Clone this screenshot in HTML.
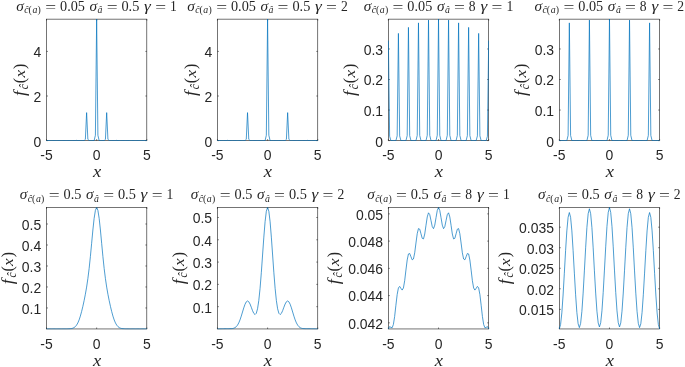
<!DOCTYPE html>
<html lang="en"><head><meta charset="utf-8"><title>f(x) subplots</title>
<style>html,body{margin:0;padding:0;background:#fff}svg{display:block}</style></head>
<body>
<svg width="685" height="367" viewBox="0 0 685 367">
<rect width="685" height="367" fill="#fff"/>
<defs>
<clipPath id="c0"><rect x="46.00" y="18.65" width="101.30" height="122.45"/></clipPath>
<clipPath id="c1"><rect x="216.94" y="18.65" width="101.30" height="122.45"/></clipPath>
<clipPath id="c2"><rect x="387.88" y="18.65" width="101.30" height="122.45"/></clipPath>
<clipPath id="c3"><rect x="558.82" y="18.65" width="101.30" height="122.45"/></clipPath>
<clipPath id="c4"><rect x="46.00" y="207.00" width="101.30" height="122.45"/></clipPath>
<clipPath id="c5"><rect x="216.94" y="207.00" width="101.30" height="122.45"/></clipPath>
<clipPath id="c6"><rect x="387.88" y="207.00" width="101.30" height="122.45"/></clipPath>
<clipPath id="c7"><rect x="558.82" y="207.00" width="101.30" height="122.45"/></clipPath>
</defs>
<g id="ax0">
<rect x="46.50" y="19.15" width="100.30" height="121.45" fill="none" stroke="#262626" stroke-width="0.64"/>
<path d="M46.50 140.60v-1.4M46.50 19.15v1.4M96.65 140.60v-1.4M96.65 19.15v1.4M146.80 140.60v-1.4M146.80 19.15v1.4M46.50 140.60h1.4M146.80 140.60h-1.4M46.50 96.01h1.4M146.80 96.01h-1.4M46.50 51.41h1.4M146.80 51.41h-1.4" stroke="#262626" stroke-width="0.64" fill="none"/>
<polyline points="46.50,140.60 47.75,140.60 49.01,140.60 50.26,140.60 51.52,140.60 52.77,140.60 54.02,140.60 55.28,140.60 56.53,140.60 57.78,140.60 59.04,140.60 60.29,140.60 61.55,140.60 62.80,140.60 64.05,140.60 65.31,140.60 66.56,140.60 67.81,140.60 69.07,140.60 70.32,140.60 71.58,140.60 72.83,140.60 74.08,140.60 75.34,140.59 76.59,140.36 77.84,140.59 79.10,140.60 80.35,140.60 81.60,140.60 82.86,140.60 84.11,140.60 85.37,139.37 86.62,112.62 87.87,139.37 89.13,140.60 90.38,140.60 91.63,140.60 92.89,140.60 94.14,140.60 95.40,135.26 96.65,19.15 97.90,135.26 99.16,140.60 100.41,140.60 101.67,140.60 102.92,140.60 104.17,140.60 105.43,139.37 106.68,112.62 107.93,139.37 109.19,140.60 110.44,140.60 111.70,140.60 112.95,140.60 114.20,140.60 115.46,140.59 116.71,140.36 117.96,140.59 119.22,140.60 120.47,140.60 121.72,140.60 122.98,140.60 124.23,140.60 125.49,140.60 126.74,140.60 127.99,140.60 129.25,140.60 130.50,140.60 131.75,140.60 133.01,140.60 134.26,140.60 135.52,140.60 136.77,140.60 138.02,140.60 139.28,140.60 140.53,140.60 141.78,140.60 143.04,140.60 144.29,140.60 145.55,140.60 146.80,140.60" fill="none" stroke="#0072BD" stroke-width="0.7" stroke-linejoin="round" clip-path="url(#c0)"/>
<g font-family="Liberation Sans, Arial, Helvetica, sans-serif" font-size="15.5" fill="#262626">
<text x="46.50" y="160.20" text-anchor="middle" textLength="12.40" lengthAdjust="spacingAndGlyphs">-5</text>
<text x="96.65" y="160.20" text-anchor="middle" textLength="7.76" lengthAdjust="spacingAndGlyphs">0</text>
<text x="146.80" y="160.20" text-anchor="middle" textLength="7.76" lengthAdjust="spacingAndGlyphs">5</text>
<text x="41.20" y="146.50" text-anchor="end" textLength="7.76" lengthAdjust="spacingAndGlyphs">0</text>
<text x="41.20" y="101.91" text-anchor="end" textLength="7.76" lengthAdjust="spacingAndGlyphs">2</text>
<text x="41.20" y="57.31" text-anchor="end" textLength="7.76" lengthAdjust="spacingAndGlyphs">4</text>
</g>
<text x="97.05" y="177.30" text-anchor="middle" font-family="Liberation Serif, Times New Roman, serif" font-style="italic" font-size="16" fill="#262626" textLength="8.2" lengthAdjust="spacingAndGlyphs">x</text>
<g transform="translate(24.60 80.38) rotate(-90)" font-family="Liberation Serif, Times New Roman, serif" font-size="16.0" fill="#262626"><text x="-15.6" y="0" font-style="italic" font-size="16" textLength="5.0" lengthAdjust="spacingAndGlyphs">f</text><text x="-8.9" y="3" font-style="italic" font-size="11.5">ĉ</text><text x="-2.9" y="0">(</text><text x="2.8" y="0" font-style="italic" font-size="15.5" textLength="7.6" lengthAdjust="spacingAndGlyphs">x</text><text x="11.5" y="0">)</text></g>
<g font-family="Liberation Serif, Times New Roman, serif" font-size="13.6" fill="#262626">
<text x="16.34" y="10.65" font-style="italic" textLength="7.6" lengthAdjust="spacingAndGlyphs">σ</text>
<text x="24.34" y="13.25" font-style="italic" font-size="9.8">ĉ</text>
<text x="28.58" y="13.25" font-size="9.8">(</text>
<text x="32.39" y="13.25" font-style="italic" font-size="9.8">a</text>
<text x="37.58" y="13.25" font-size="9.8">)</text>
<text x="45.28" y="11.65" textLength="10.89" lengthAdjust="spacingAndGlyphs">=</text>
<text x="60.07" y="10.65" textLength="24.89" lengthAdjust="spacingAndGlyphs">0.05</text>
<text x="89.62" y="10.65" font-style="italic" textLength="7.6" lengthAdjust="spacingAndGlyphs">σ</text>
<text x="97.61" y="13.25" font-style="italic" font-size="9.8">â</text>
<text x="106.69" y="11.65" textLength="10.89" lengthAdjust="spacingAndGlyphs">=</text>
<text x="121.47" y="10.65" textLength="17.89" lengthAdjust="spacingAndGlyphs">0.5</text>
<text x="144.03" y="10.65" font-style="italic" textLength="6.8" lengthAdjust="spacingAndGlyphs">γ</text>
<text x="155.17" y="11.65" textLength="10.89" lengthAdjust="spacingAndGlyphs">=</text>
<text x="169.96" y="10.65">1</text>
</g>
</g>
<g id="ax1">
<rect x="217.44" y="19.15" width="100.30" height="121.45" fill="none" stroke="#262626" stroke-width="0.64"/>
<path d="M217.44 140.60v-1.4M217.44 19.15v1.4M267.59 140.60v-1.4M267.59 19.15v1.4M317.74 140.60v-1.4M317.74 19.15v1.4M217.44 140.60h1.4M317.74 140.60h-1.4M217.44 96.01h1.4M317.74 96.01h-1.4M217.44 51.41h1.4M317.74 51.41h-1.4" stroke="#262626" stroke-width="0.64" fill="none"/>
<polyline points="217.44,140.60 218.69,140.60 219.95,140.60 221.20,140.60 222.45,140.60 223.71,140.60 224.96,140.60 226.22,140.59 227.47,140.36 228.72,140.59 229.98,140.60 231.23,140.60 232.48,140.60 233.74,140.60 234.99,140.60 236.25,140.60 237.50,140.60 238.75,140.60 240.01,140.60 241.26,140.60 242.51,140.60 243.77,140.60 245.02,140.60 246.28,139.37 247.53,112.62 248.78,139.37 250.04,140.60 251.29,140.60 252.54,140.60 253.80,140.60 255.05,140.60 256.31,140.60 257.56,140.60 258.81,140.60 260.07,140.60 261.32,140.60 262.57,140.60 263.83,140.60 265.08,140.60 266.34,135.26 267.59,19.15 268.84,135.26 270.10,140.60 271.35,140.60 272.61,140.60 273.86,140.60 275.11,140.60 276.37,140.60 277.62,140.60 278.87,140.60 280.13,140.60 281.38,140.60 282.63,140.60 283.89,140.60 285.14,140.60 286.40,139.37 287.65,112.62 288.90,139.37 290.16,140.60 291.41,140.60 292.66,140.60 293.92,140.60 295.17,140.60 296.43,140.60 297.68,140.60 298.93,140.60 300.19,140.60 301.44,140.60 302.69,140.60 303.95,140.60 305.20,140.60 306.46,140.59 307.71,140.36 308.96,140.59 310.22,140.60 311.47,140.60 312.73,140.60 313.98,140.60 315.23,140.60 316.49,140.60 317.74,140.60" fill="none" stroke="#0072BD" stroke-width="0.7" stroke-linejoin="round" clip-path="url(#c1)"/>
<g font-family="Liberation Sans, Arial, Helvetica, sans-serif" font-size="15.5" fill="#262626">
<text x="217.44" y="160.20" text-anchor="middle" textLength="12.40" lengthAdjust="spacingAndGlyphs">-5</text>
<text x="267.59" y="160.20" text-anchor="middle" textLength="7.76" lengthAdjust="spacingAndGlyphs">0</text>
<text x="317.74" y="160.20" text-anchor="middle" textLength="7.76" lengthAdjust="spacingAndGlyphs">5</text>
<text x="212.14" y="146.50" text-anchor="end" textLength="7.76" lengthAdjust="spacingAndGlyphs">0</text>
<text x="212.14" y="101.91" text-anchor="end" textLength="7.76" lengthAdjust="spacingAndGlyphs">2</text>
<text x="212.14" y="57.31" text-anchor="end" textLength="7.76" lengthAdjust="spacingAndGlyphs">4</text>
</g>
<text x="267.99" y="177.30" text-anchor="middle" font-family="Liberation Serif, Times New Roman, serif" font-style="italic" font-size="16" fill="#262626" textLength="8.2" lengthAdjust="spacingAndGlyphs">x</text>
<g transform="translate(195.54 80.38) rotate(-90)" font-family="Liberation Serif, Times New Roman, serif" font-size="16.0" fill="#262626"><text x="-15.6" y="0" font-style="italic" font-size="16" textLength="5.0" lengthAdjust="spacingAndGlyphs">f</text><text x="-8.9" y="3" font-style="italic" font-size="11.5">ĉ</text><text x="-2.9" y="0">(</text><text x="2.8" y="0" font-style="italic" font-size="15.5" textLength="7.6" lengthAdjust="spacingAndGlyphs">x</text><text x="11.5" y="0">)</text></g>
<g font-family="Liberation Serif, Times New Roman, serif" font-size="13.6" fill="#262626">
<text x="187.28" y="10.65" font-style="italic" textLength="7.6" lengthAdjust="spacingAndGlyphs">σ</text>
<text x="195.28" y="13.25" font-style="italic" font-size="9.8">ĉ</text>
<text x="199.52" y="13.25" font-size="9.8">(</text>
<text x="203.33" y="13.25" font-style="italic" font-size="9.8">a</text>
<text x="208.52" y="13.25" font-size="9.8">)</text>
<text x="216.22" y="11.65" textLength="10.89" lengthAdjust="spacingAndGlyphs">=</text>
<text x="231.01" y="10.65" textLength="24.89" lengthAdjust="spacingAndGlyphs">0.05</text>
<text x="260.56" y="10.65" font-style="italic" textLength="7.6" lengthAdjust="spacingAndGlyphs">σ</text>
<text x="268.55" y="13.25" font-style="italic" font-size="9.8">â</text>
<text x="277.63" y="11.65" textLength="10.89" lengthAdjust="spacingAndGlyphs">=</text>
<text x="292.41" y="10.65" textLength="17.89" lengthAdjust="spacingAndGlyphs">0.5</text>
<text x="314.97" y="10.65" font-style="italic" textLength="6.8" lengthAdjust="spacingAndGlyphs">γ</text>
<text x="326.11" y="11.65" textLength="10.89" lengthAdjust="spacingAndGlyphs">=</text>
<text x="340.90" y="10.65">2</text>
</g>
</g>
<g id="ax2">
<rect x="388.38" y="19.15" width="100.30" height="121.45" fill="none" stroke="#262626" stroke-width="0.64"/>
<path d="M388.38 140.60v-1.4M388.38 19.15v1.4M438.53 140.60v-1.4M438.53 19.15v1.4M488.68 140.60v-1.4M488.68 19.15v1.4M388.38 140.60h1.4M488.68 140.60h-1.4M388.38 110.06h1.4M488.68 110.06h-1.4M388.38 79.51h1.4M488.68 79.51h-1.4M388.38 48.97h1.4M488.68 48.97h-1.4" stroke="#262626" stroke-width="0.64" fill="none"/>
<polyline points="388.38,40.67 389.63,136.21 390.89,140.60 392.14,140.60 393.39,140.60 394.65,140.60 395.90,140.60 397.16,135.89 398.41,33.40 399.66,135.89 400.92,140.60 402.17,140.60 403.43,140.60 404.68,140.60 405.93,140.60 407.19,135.63 408.44,27.39 409.69,135.63 410.95,140.60 412.20,140.60 413.45,140.60 414.71,140.60 415.96,140.60 417.22,135.43 418.47,22.88 419.72,135.43 420.98,140.60 422.23,140.60 423.49,140.60 424.74,140.60 425.99,140.60 427.25,135.31 428.50,20.09 429.75,135.31 431.01,140.60 432.26,140.60 433.51,140.60 434.77,140.60 436.02,140.60 437.28,135.26 438.53,19.15 439.78,135.26 441.04,140.60 442.29,140.60 443.55,140.60 444.80,140.60 446.05,140.60 447.31,135.31 448.56,20.09 449.81,135.31 451.07,140.60 452.32,140.60 453.57,140.60 454.83,140.60 456.08,140.60 457.34,135.43 458.59,22.88 459.84,135.43 461.10,140.60 462.35,140.60 463.61,140.60 464.86,140.60 466.11,140.60 467.37,135.63 468.62,27.39 469.87,135.63 471.13,140.60 472.38,140.60 473.63,140.60 474.89,140.60 476.14,140.60 477.40,135.89 478.65,33.40 479.90,135.89 481.16,140.60 482.41,140.60 483.66,140.60 484.92,140.60 486.17,140.60 487.43,136.21 488.68,40.67" fill="none" stroke="#0072BD" stroke-width="0.7" stroke-linejoin="round" clip-path="url(#c2)"/>
<g font-family="Liberation Sans, Arial, Helvetica, sans-serif" font-size="15.5" fill="#262626">
<text x="388.38" y="160.20" text-anchor="middle" textLength="12.40" lengthAdjust="spacingAndGlyphs">-5</text>
<text x="438.53" y="160.20" text-anchor="middle" textLength="7.76" lengthAdjust="spacingAndGlyphs">0</text>
<text x="488.68" y="160.20" text-anchor="middle" textLength="7.76" lengthAdjust="spacingAndGlyphs">5</text>
<text x="383.08" y="146.50" text-anchor="end" textLength="7.76" lengthAdjust="spacingAndGlyphs">0</text>
<text x="383.08" y="115.96" text-anchor="end" textLength="19.39" lengthAdjust="spacingAndGlyphs">0.1</text>
<text x="383.08" y="85.41" text-anchor="end" textLength="19.39" lengthAdjust="spacingAndGlyphs">0.2</text>
<text x="383.08" y="54.87" text-anchor="end" textLength="19.39" lengthAdjust="spacingAndGlyphs">0.3</text>
</g>
<text x="438.93" y="177.30" text-anchor="middle" font-family="Liberation Serif, Times New Roman, serif" font-style="italic" font-size="16" fill="#262626" textLength="8.2" lengthAdjust="spacingAndGlyphs">x</text>
<g transform="translate(354.85 80.38) rotate(-90)" font-family="Liberation Serif, Times New Roman, serif" font-size="16.0" fill="#262626"><text x="-15.6" y="0" font-style="italic" font-size="16" textLength="5.0" lengthAdjust="spacingAndGlyphs">f</text><text x="-8.9" y="3" font-style="italic" font-size="11.5">ĉ</text><text x="-2.9" y="0">(</text><text x="2.8" y="0" font-style="italic" font-size="15.5" textLength="7.6" lengthAdjust="spacingAndGlyphs">x</text><text x="11.5" y="0">)</text></g>
<g font-family="Liberation Serif, Times New Roman, serif" font-size="13.6" fill="#262626">
<text x="363.67" y="10.65" font-style="italic" textLength="7.6" lengthAdjust="spacingAndGlyphs">σ</text>
<text x="371.66" y="13.25" font-style="italic" font-size="9.8">ĉ</text>
<text x="375.91" y="13.25" font-size="9.8">(</text>
<text x="379.72" y="13.25" font-style="italic" font-size="9.8">a</text>
<text x="384.90" y="13.25" font-size="9.8">)</text>
<text x="392.61" y="11.65" textLength="10.89" lengthAdjust="spacingAndGlyphs">=</text>
<text x="407.39" y="10.65" textLength="24.89" lengthAdjust="spacingAndGlyphs">0.05</text>
<text x="436.95" y="10.65" font-style="italic" textLength="7.6" lengthAdjust="spacingAndGlyphs">σ</text>
<text x="444.94" y="13.25" font-style="italic" font-size="9.8">â</text>
<text x="454.02" y="11.65" textLength="10.89" lengthAdjust="spacingAndGlyphs">=</text>
<text x="468.80" y="10.65">8</text>
<text x="480.46" y="10.65" font-style="italic" textLength="6.8" lengthAdjust="spacingAndGlyphs">γ</text>
<text x="491.61" y="11.65" textLength="10.89" lengthAdjust="spacingAndGlyphs">=</text>
<text x="506.39" y="10.65">1</text>
</g>
</g>
<g id="ax3">
<rect x="559.32" y="19.15" width="100.30" height="121.45" fill="none" stroke="#262626" stroke-width="0.64"/>
<path d="M559.32 140.60v-1.4M559.32 19.15v1.4M609.47 140.60v-1.4M609.47 19.15v1.4M659.62 140.60v-1.4M659.62 19.15v1.4M559.32 140.60h1.4M659.62 140.60h-1.4M559.32 110.06h1.4M659.62 110.06h-1.4M559.32 79.51h1.4M659.62 79.51h-1.4M559.32 48.97h1.4M659.62 48.97h-1.4" stroke="#262626" stroke-width="0.64" fill="none"/>
<polyline points="559.32,140.60 560.57,140.60 561.83,140.60 563.08,140.60 564.33,140.60 565.59,140.60 566.84,140.60 568.10,135.43 569.35,22.88 570.60,135.43 571.86,140.60 573.11,140.60 574.36,140.60 575.62,140.60 576.87,140.60 578.13,140.60 579.38,140.60 580.63,140.60 581.89,140.60 583.14,140.60 584.39,140.60 585.65,140.60 586.90,140.60 588.16,135.31 589.41,20.09 590.66,135.31 591.92,140.60 593.17,140.60 594.42,140.60 595.68,140.60 596.93,140.60 598.19,140.60 599.44,140.60 600.69,140.60 601.95,140.60 603.20,140.60 604.45,140.60 605.71,140.60 606.96,140.60 608.22,135.26 609.47,19.15 610.72,135.26 611.98,140.60 613.23,140.60 614.48,140.60 615.74,140.60 616.99,140.60 618.25,140.60 619.50,140.60 620.75,140.60 622.01,140.60 623.26,140.60 624.51,140.60 625.77,140.60 627.02,140.60 628.28,135.31 629.53,20.09 630.78,135.31 632.04,140.60 633.29,140.60 634.54,140.60 635.80,140.60 637.05,140.60 638.31,140.60 639.56,140.60 640.81,140.60 642.07,140.60 643.32,140.60 644.57,140.60 645.83,140.60 647.08,140.60 648.34,135.43 649.59,22.88 650.84,135.43 652.10,140.60 653.35,140.60 654.60,140.60 655.86,140.60 657.11,140.60 658.37,140.60 659.62,140.60" fill="none" stroke="#0072BD" stroke-width="0.7" stroke-linejoin="round" clip-path="url(#c3)"/>
<g font-family="Liberation Sans, Arial, Helvetica, sans-serif" font-size="15.5" fill="#262626">
<text x="559.32" y="160.20" text-anchor="middle" textLength="12.40" lengthAdjust="spacingAndGlyphs">-5</text>
<text x="609.47" y="160.20" text-anchor="middle" textLength="7.76" lengthAdjust="spacingAndGlyphs">0</text>
<text x="659.62" y="160.20" text-anchor="middle" textLength="7.76" lengthAdjust="spacingAndGlyphs">5</text>
<text x="554.02" y="146.50" text-anchor="end" textLength="7.76" lengthAdjust="spacingAndGlyphs">0</text>
<text x="554.02" y="115.96" text-anchor="end" textLength="19.39" lengthAdjust="spacingAndGlyphs">0.1</text>
<text x="554.02" y="85.41" text-anchor="end" textLength="19.39" lengthAdjust="spacingAndGlyphs">0.2</text>
<text x="554.02" y="54.87" text-anchor="end" textLength="19.39" lengthAdjust="spacingAndGlyphs">0.3</text>
</g>
<text x="609.87" y="177.30" text-anchor="middle" font-family="Liberation Serif, Times New Roman, serif" font-style="italic" font-size="16" fill="#262626" textLength="8.2" lengthAdjust="spacingAndGlyphs">x</text>
<g transform="translate(525.79 80.38) rotate(-90)" font-family="Liberation Serif, Times New Roman, serif" font-size="16.0" fill="#262626"><text x="-15.6" y="0" font-style="italic" font-size="16" textLength="5.0" lengthAdjust="spacingAndGlyphs">f</text><text x="-8.9" y="3" font-style="italic" font-size="11.5">ĉ</text><text x="-2.9" y="0">(</text><text x="2.8" y="0" font-style="italic" font-size="15.5" textLength="7.6" lengthAdjust="spacingAndGlyphs">x</text><text x="11.5" y="0">)</text></g>
<g font-family="Liberation Serif, Times New Roman, serif" font-size="13.6" fill="#262626">
<text x="534.61" y="10.65" font-style="italic" textLength="7.6" lengthAdjust="spacingAndGlyphs">σ</text>
<text x="542.60" y="13.25" font-style="italic" font-size="9.8">ĉ</text>
<text x="546.85" y="13.25" font-size="9.8">(</text>
<text x="550.66" y="13.25" font-style="italic" font-size="9.8">a</text>
<text x="555.84" y="13.25" font-size="9.8">)</text>
<text x="563.55" y="11.65" textLength="10.89" lengthAdjust="spacingAndGlyphs">=</text>
<text x="578.33" y="10.65" textLength="24.89" lengthAdjust="spacingAndGlyphs">0.05</text>
<text x="607.89" y="10.65" font-style="italic" textLength="7.6" lengthAdjust="spacingAndGlyphs">σ</text>
<text x="615.88" y="13.25" font-style="italic" font-size="9.8">â</text>
<text x="624.96" y="11.65" textLength="10.89" lengthAdjust="spacingAndGlyphs">=</text>
<text x="639.74" y="10.65">8</text>
<text x="651.40" y="10.65" font-style="italic" textLength="6.8" lengthAdjust="spacingAndGlyphs">γ</text>
<text x="662.55" y="11.65" textLength="10.89" lengthAdjust="spacingAndGlyphs">=</text>
<text x="677.33" y="10.65">2</text>
</g>
</g>
<g id="ax4">
<rect x="46.50" y="207.50" width="100.30" height="121.45" fill="none" stroke="#262626" stroke-width="0.64"/>
<path d="M46.50 328.95v-1.4M46.50 207.50v1.4M96.65 328.95v-1.4M96.65 207.50v1.4M146.80 328.95v-1.4M146.80 207.50v1.4M46.50 307.96h1.4M146.80 307.96h-1.4M46.50 286.98h1.4M146.80 286.98h-1.4M46.50 265.99h1.4M146.80 265.99h-1.4M46.50 245.00h1.4M146.80 245.00h-1.4M46.50 224.01h1.4M146.80 224.01h-1.4" stroke="#262626" stroke-width="0.64" fill="none"/>
<polyline points="46.50,328.95 47.75,328.95 49.01,328.95 50.26,328.95 51.52,328.95 52.77,328.95 54.02,328.95 55.28,328.95 56.53,328.95 57.78,328.95 59.04,328.95 60.29,328.95 61.55,328.95 62.80,328.94 64.05,328.94 65.31,328.93 66.56,328.91 67.81,328.88 69.07,328.82 70.32,328.71 71.58,328.52 72.83,328.18 74.08,327.59 75.34,326.62 76.59,325.12 77.84,322.93 79.10,319.95 80.35,316.14 81.60,311.57 82.86,306.36 84.11,300.61 85.37,294.27 86.62,287.10 87.87,278.65 89.13,268.52 90.38,256.59 91.63,243.34 92.89,230.00 94.14,218.35 95.40,210.35 96.65,207.50 97.90,210.35 99.16,218.35 100.41,230.00 101.67,243.34 102.92,256.59 104.17,268.52 105.43,278.65 106.68,287.10 107.93,294.27 109.19,300.61 110.44,306.36 111.70,311.57 112.95,316.14 114.20,319.95 115.46,322.93 116.71,325.12 117.96,326.62 119.22,327.59 120.47,328.18 121.72,328.52 122.98,328.71 124.23,328.82 125.49,328.88 126.74,328.91 127.99,328.93 129.25,328.94 130.50,328.94 131.75,328.95 133.01,328.95 134.26,328.95 135.52,328.95 136.77,328.95 138.02,328.95 139.28,328.95 140.53,328.95 141.78,328.95 143.04,328.95 144.29,328.95 145.55,328.95 146.80,328.95" fill="none" stroke="#0072BD" stroke-width="0.7" stroke-linejoin="round" clip-path="url(#c4)"/>
<g font-family="Liberation Sans, Arial, Helvetica, sans-serif" font-size="15.5" fill="#262626">
<text x="46.50" y="348.55" text-anchor="middle" textLength="12.40" lengthAdjust="spacingAndGlyphs">-5</text>
<text x="96.65" y="348.55" text-anchor="middle" textLength="7.76" lengthAdjust="spacingAndGlyphs">0</text>
<text x="146.80" y="348.55" text-anchor="middle" textLength="7.76" lengthAdjust="spacingAndGlyphs">5</text>
<text x="41.20" y="313.86" text-anchor="end" textLength="19.39" lengthAdjust="spacingAndGlyphs">0.1</text>
<text x="41.20" y="292.88" text-anchor="end" textLength="19.39" lengthAdjust="spacingAndGlyphs">0.2</text>
<text x="41.20" y="271.89" text-anchor="end" textLength="19.39" lengthAdjust="spacingAndGlyphs">0.3</text>
<text x="41.20" y="250.90" text-anchor="end" textLength="19.39" lengthAdjust="spacingAndGlyphs">0.4</text>
<text x="41.20" y="229.91" text-anchor="end" textLength="19.39" lengthAdjust="spacingAndGlyphs">0.5</text>
</g>
<text x="97.05" y="365.65" text-anchor="middle" font-family="Liberation Serif, Times New Roman, serif" font-style="italic" font-size="16" fill="#262626" textLength="8.2" lengthAdjust="spacingAndGlyphs">x</text>
<g transform="translate(12.97 268.73) rotate(-90)" font-family="Liberation Serif, Times New Roman, serif" font-size="16.0" fill="#262626"><text x="-15.6" y="0" font-style="italic" font-size="16" textLength="5.0" lengthAdjust="spacingAndGlyphs">f</text><text x="-8.9" y="3" font-style="italic" font-size="11.5">ĉ</text><text x="-2.9" y="0">(</text><text x="2.8" y="0" font-style="italic" font-size="15.5" textLength="7.6" lengthAdjust="spacingAndGlyphs">x</text><text x="11.5" y="0">)</text></g>
<g font-family="Liberation Serif, Times New Roman, serif" font-size="13.6" fill="#262626">
<text x="19.84" y="199.00" font-style="italic" textLength="7.6" lengthAdjust="spacingAndGlyphs">σ</text>
<text x="27.84" y="201.60" font-style="italic" font-size="9.8">ĉ</text>
<text x="32.08" y="201.60" font-size="9.8">(</text>
<text x="35.89" y="201.60" font-style="italic" font-size="9.8">a</text>
<text x="41.08" y="201.60" font-size="9.8">)</text>
<text x="48.78" y="200.00" textLength="10.89" lengthAdjust="spacingAndGlyphs">=</text>
<text x="63.57" y="199.00" textLength="17.89" lengthAdjust="spacingAndGlyphs">0.5</text>
<text x="86.12" y="199.00" font-style="italic" textLength="7.6" lengthAdjust="spacingAndGlyphs">σ</text>
<text x="94.11" y="201.60" font-style="italic" font-size="9.8">â</text>
<text x="103.19" y="200.00" textLength="10.89" lengthAdjust="spacingAndGlyphs">=</text>
<text x="117.97" y="199.00" textLength="17.89" lengthAdjust="spacingAndGlyphs">0.5</text>
<text x="140.53" y="199.00" font-style="italic" textLength="6.8" lengthAdjust="spacingAndGlyphs">γ</text>
<text x="151.67" y="200.00" textLength="10.89" lengthAdjust="spacingAndGlyphs">=</text>
<text x="166.46" y="199.00">1</text>
</g>
</g>
<g id="ax5">
<rect x="217.44" y="207.50" width="100.30" height="121.45" fill="none" stroke="#262626" stroke-width="0.64"/>
<path d="M217.44 328.95v-1.4M217.44 207.50v1.4M267.59 328.95v-1.4M267.59 207.50v1.4M317.74 328.95v-1.4M317.74 207.50v1.4M217.44 306.68h1.4M317.74 306.68h-1.4M217.44 284.38h1.4M317.74 284.38h-1.4M217.44 262.09h1.4M317.74 262.09h-1.4M217.44 239.79h1.4M317.74 239.79h-1.4M217.44 217.49h1.4M317.74 217.49h-1.4" stroke="#262626" stroke-width="0.64" fill="none"/>
<polyline points="217.44,328.95 218.69,328.93 219.95,328.90 221.20,328.87 222.45,328.84 223.71,328.80 224.96,328.77 226.22,328.75 227.47,328.73 228.72,328.73 229.98,328.71 231.23,328.66 232.48,328.53 233.74,328.23 234.99,327.67 236.25,326.70 237.50,325.16 238.75,322.91 240.01,319.89 241.26,316.16 242.51,312.00 243.77,307.85 245.02,304.28 246.28,301.84 247.53,300.95 248.78,301.75 250.04,304.02 251.29,307.24 252.54,310.66 253.80,313.40 255.05,314.56 256.31,313.27 257.56,308.76 258.81,300.49 260.07,288.32 261.32,272.73 262.57,255.00 263.83,237.15 265.08,221.73 266.34,211.23 267.59,207.50 268.84,211.23 270.10,221.73 271.35,237.15 272.61,255.00 273.86,272.73 275.11,288.32 276.37,300.49 277.62,308.76 278.87,313.27 280.13,314.56 281.38,313.40 282.63,310.66 283.89,307.24 285.14,304.02 286.40,301.75 287.65,300.95 288.90,301.84 290.16,304.28 291.41,307.85 292.66,312.00 293.92,316.16 295.17,319.89 296.43,322.91 297.68,325.16 298.93,326.70 300.19,327.67 301.44,328.23 302.69,328.53 303.95,328.66 305.20,328.71 306.46,328.73 307.71,328.73 308.96,328.75 310.22,328.77 311.47,328.80 312.73,328.84 313.98,328.87 315.23,328.90 316.49,328.93 317.74,328.95" fill="none" stroke="#0072BD" stroke-width="0.7" stroke-linejoin="round" clip-path="url(#c5)"/>
<g font-family="Liberation Sans, Arial, Helvetica, sans-serif" font-size="15.5" fill="#262626">
<text x="217.44" y="348.55" text-anchor="middle" textLength="12.40" lengthAdjust="spacingAndGlyphs">-5</text>
<text x="267.59" y="348.55" text-anchor="middle" textLength="7.76" lengthAdjust="spacingAndGlyphs">0</text>
<text x="317.74" y="348.55" text-anchor="middle" textLength="7.76" lengthAdjust="spacingAndGlyphs">5</text>
<text x="212.14" y="312.58" text-anchor="end" textLength="19.39" lengthAdjust="spacingAndGlyphs">0.1</text>
<text x="212.14" y="290.28" text-anchor="end" textLength="19.39" lengthAdjust="spacingAndGlyphs">0.2</text>
<text x="212.14" y="267.99" text-anchor="end" textLength="19.39" lengthAdjust="spacingAndGlyphs">0.3</text>
<text x="212.14" y="245.69" text-anchor="end" textLength="19.39" lengthAdjust="spacingAndGlyphs">0.4</text>
<text x="212.14" y="223.39" text-anchor="end" textLength="19.39" lengthAdjust="spacingAndGlyphs">0.5</text>
</g>
<text x="267.99" y="365.65" text-anchor="middle" font-family="Liberation Serif, Times New Roman, serif" font-style="italic" font-size="16" fill="#262626" textLength="8.2" lengthAdjust="spacingAndGlyphs">x</text>
<g transform="translate(183.91 268.73) rotate(-90)" font-family="Liberation Serif, Times New Roman, serif" font-size="16.0" fill="#262626"><text x="-15.6" y="0" font-style="italic" font-size="16" textLength="5.0" lengthAdjust="spacingAndGlyphs">f</text><text x="-8.9" y="3" font-style="italic" font-size="11.5">ĉ</text><text x="-2.9" y="0">(</text><text x="2.8" y="0" font-style="italic" font-size="15.5" textLength="7.6" lengthAdjust="spacingAndGlyphs">x</text><text x="11.5" y="0">)</text></g>
<g font-family="Liberation Serif, Times New Roman, serif" font-size="13.6" fill="#262626">
<text x="190.78" y="199.00" font-style="italic" textLength="7.6" lengthAdjust="spacingAndGlyphs">σ</text>
<text x="198.78" y="201.60" font-style="italic" font-size="9.8">ĉ</text>
<text x="203.02" y="201.60" font-size="9.8">(</text>
<text x="206.83" y="201.60" font-style="italic" font-size="9.8">a</text>
<text x="212.02" y="201.60" font-size="9.8">)</text>
<text x="219.72" y="200.00" textLength="10.89" lengthAdjust="spacingAndGlyphs">=</text>
<text x="234.51" y="199.00" textLength="17.89" lengthAdjust="spacingAndGlyphs">0.5</text>
<text x="257.06" y="199.00" font-style="italic" textLength="7.6" lengthAdjust="spacingAndGlyphs">σ</text>
<text x="265.05" y="201.60" font-style="italic" font-size="9.8">â</text>
<text x="274.13" y="200.00" textLength="10.89" lengthAdjust="spacingAndGlyphs">=</text>
<text x="288.91" y="199.00" textLength="17.89" lengthAdjust="spacingAndGlyphs">0.5</text>
<text x="311.47" y="199.00" font-style="italic" textLength="6.8" lengthAdjust="spacingAndGlyphs">γ</text>
<text x="322.61" y="200.00" textLength="10.89" lengthAdjust="spacingAndGlyphs">=</text>
<text x="337.40" y="199.00">2</text>
</g>
</g>
<g id="ax6">
<rect x="388.38" y="207.50" width="100.30" height="121.45" fill="none" stroke="#262626" stroke-width="0.64"/>
<path d="M388.38 328.95v-1.4M388.38 207.50v1.4M438.53 328.95v-1.4M438.53 207.50v1.4M488.68 328.95v-1.4M488.68 207.50v1.4M388.38 322.84h1.4M488.68 322.84h-1.4M388.38 295.59h1.4M488.68 295.59h-1.4M388.38 268.35h1.4M488.68 268.35h-1.4M388.38 241.11h1.4M488.68 241.11h-1.4M388.38 213.87h1.4M488.68 213.87h-1.4" stroke="#262626" stroke-width="0.64" fill="none"/>
<polyline points="388.38,328.95 389.63,326.59 390.89,327.36 392.14,327.78 393.39,324.53 394.65,316.45 395.90,305.27 397.16,294.61 398.41,287.92 399.66,286.42 400.92,288.39 402.17,290.09 403.43,287.96 404.68,280.71 405.93,270.10 407.19,259.96 408.44,253.96 409.69,253.48 410.95,256.73 412.20,259.83 413.45,259.00 414.71,252.81 415.96,243.05 417.22,233.67 418.47,228.55 419.72,229.18 420.98,233.78 422.23,238.34 423.49,238.93 424.74,234.00 425.99,225.31 427.25,216.92 428.50,212.82 429.75,214.62 431.01,220.57 432.26,226.60 433.51,228.66 434.77,225.13 436.02,217.70 437.28,210.47 438.53,207.50 439.78,210.47 441.04,217.70 442.29,225.13 443.55,228.66 444.80,226.60 446.05,220.57 447.31,214.62 448.56,212.82 449.81,216.92 451.07,225.31 452.32,234.00 453.57,238.93 454.83,238.34 456.08,233.78 457.34,229.18 458.59,228.55 459.84,233.67 461.10,243.05 462.35,252.81 463.61,259.00 464.86,259.83 466.11,256.73 467.37,253.48 468.62,253.96 469.87,259.96 471.13,270.10 472.38,280.71 473.63,287.96 474.89,290.09 476.14,288.39 477.40,286.42 478.65,287.92 479.90,294.61 481.16,305.27 482.41,316.45 483.66,324.53 484.92,327.78 486.17,327.36 487.43,326.59 488.68,328.95" fill="none" stroke="#0072BD" stroke-width="0.7" stroke-linejoin="round" clip-path="url(#c6)"/>
<g font-family="Liberation Sans, Arial, Helvetica, sans-serif" font-size="15.5" fill="#262626">
<text x="388.38" y="348.55" text-anchor="middle" textLength="12.40" lengthAdjust="spacingAndGlyphs">-5</text>
<text x="438.53" y="348.55" text-anchor="middle" textLength="7.76" lengthAdjust="spacingAndGlyphs">0</text>
<text x="488.68" y="348.55" text-anchor="middle" textLength="7.76" lengthAdjust="spacingAndGlyphs">5</text>
<text x="383.08" y="328.74" text-anchor="end" textLength="34.90" lengthAdjust="spacingAndGlyphs">0.042</text>
<text x="383.08" y="301.49" text-anchor="end" textLength="34.90" lengthAdjust="spacingAndGlyphs">0.044</text>
<text x="383.08" y="274.25" text-anchor="end" textLength="34.90" lengthAdjust="spacingAndGlyphs">0.046</text>
<text x="383.08" y="247.01" text-anchor="end" textLength="34.90" lengthAdjust="spacingAndGlyphs">0.048</text>
<text x="383.08" y="219.77" text-anchor="end" textLength="27.15" lengthAdjust="spacingAndGlyphs">0.05</text>
</g>
<text x="438.93" y="365.65" text-anchor="middle" font-family="Liberation Serif, Times New Roman, serif" font-style="italic" font-size="16" fill="#262626" textLength="8.2" lengthAdjust="spacingAndGlyphs">x</text>
<g transform="translate(339.33 268.73) rotate(-90)" font-family="Liberation Serif, Times New Roman, serif" font-size="16.0" fill="#262626"><text x="-15.6" y="0" font-style="italic" font-size="16" textLength="5.0" lengthAdjust="spacingAndGlyphs">f</text><text x="-8.9" y="3" font-style="italic" font-size="11.5">ĉ</text><text x="-2.9" y="0">(</text><text x="2.8" y="0" font-style="italic" font-size="15.5" textLength="7.6" lengthAdjust="spacingAndGlyphs">x</text><text x="11.5" y="0">)</text></g>
<g font-family="Liberation Serif, Times New Roman, serif" font-size="13.6" fill="#262626">
<text x="367.17" y="199.00" font-style="italic" textLength="7.6" lengthAdjust="spacingAndGlyphs">σ</text>
<text x="375.16" y="201.60" font-style="italic" font-size="9.8">ĉ</text>
<text x="379.41" y="201.60" font-size="9.8">(</text>
<text x="383.22" y="201.60" font-style="italic" font-size="9.8">a</text>
<text x="388.40" y="201.60" font-size="9.8">)</text>
<text x="396.11" y="200.00" textLength="10.89" lengthAdjust="spacingAndGlyphs">=</text>
<text x="410.89" y="199.00" textLength="17.89" lengthAdjust="spacingAndGlyphs">0.5</text>
<text x="433.45" y="199.00" font-style="italic" textLength="7.6" lengthAdjust="spacingAndGlyphs">σ</text>
<text x="441.44" y="201.60" font-style="italic" font-size="9.8">â</text>
<text x="450.52" y="200.00" textLength="10.89" lengthAdjust="spacingAndGlyphs">=</text>
<text x="465.30" y="199.00">8</text>
<text x="476.96" y="199.00" font-style="italic" textLength="6.8" lengthAdjust="spacingAndGlyphs">γ</text>
<text x="488.11" y="200.00" textLength="10.89" lengthAdjust="spacingAndGlyphs">=</text>
<text x="502.89" y="199.00">1</text>
</g>
</g>
<g id="ax7">
<rect x="559.32" y="207.50" width="100.30" height="121.45" fill="none" stroke="#262626" stroke-width="0.64"/>
<path d="M559.32 328.95v-1.4M559.32 207.50v1.4M609.47 328.95v-1.4M609.47 207.50v1.4M659.62 328.95v-1.4M659.62 207.50v1.4M559.32 309.36h1.4M659.62 309.36h-1.4M559.32 288.81h1.4M659.62 288.81h-1.4M559.32 268.27h1.4M659.62 268.27h-1.4M559.32 247.72h1.4M659.62 247.72h-1.4M559.32 227.18h1.4M659.62 227.18h-1.4" stroke="#262626" stroke-width="0.64" fill="none"/>
<polyline points="559.32,328.95 560.57,324.63 561.83,312.89 563.08,295.02 564.33,273.25 565.59,250.68 566.84,230.90 568.10,217.35 569.35,212.52 570.60,217.34 571.86,230.88 573.11,250.63 574.36,273.14 575.62,294.79 576.87,312.46 578.13,323.85 579.38,327.62 580.63,323.34 581.89,311.41 583.14,293.16 584.39,270.91 585.65,247.82 586.90,227.57 588.16,213.71 589.41,208.77 590.66,213.70 591.92,227.56 593.17,247.79 594.42,270.85 595.68,293.05 596.93,311.18 598.19,322.94 599.44,326.94 600.69,322.76 601.95,310.83 603.20,292.50 604.45,270.09 605.71,246.84 606.96,226.45 608.22,212.47 609.47,207.50 610.72,212.47 611.98,226.45 613.23,246.84 614.48,270.09 615.74,292.50 616.99,310.83 618.25,322.76 619.50,326.94 620.75,322.94 622.01,311.18 623.26,293.05 624.51,270.85 625.77,247.79 627.02,227.56 628.28,213.70 629.53,208.77 630.78,213.71 632.04,227.57 633.29,247.82 634.54,270.91 635.80,293.16 637.05,311.41 638.31,323.34 639.56,327.62 640.81,323.85 642.07,312.46 643.32,294.79 644.57,273.14 645.83,250.63 647.08,230.88 648.34,217.34 649.59,212.52 650.84,217.35 652.10,230.90 653.35,250.68 654.60,273.25 655.86,295.02 657.11,312.89 658.37,324.63 659.62,328.95" fill="none" stroke="#0072BD" stroke-width="0.7" stroke-linejoin="round" clip-path="url(#c7)"/>
<g font-family="Liberation Sans, Arial, Helvetica, sans-serif" font-size="15.5" fill="#262626">
<text x="559.32" y="348.55" text-anchor="middle" textLength="12.40" lengthAdjust="spacingAndGlyphs">-5</text>
<text x="609.47" y="348.55" text-anchor="middle" textLength="7.76" lengthAdjust="spacingAndGlyphs">0</text>
<text x="659.62" y="348.55" text-anchor="middle" textLength="7.76" lengthAdjust="spacingAndGlyphs">5</text>
<text x="554.02" y="315.26" text-anchor="end" textLength="34.90" lengthAdjust="spacingAndGlyphs">0.015</text>
<text x="554.02" y="294.71" text-anchor="end" textLength="27.15" lengthAdjust="spacingAndGlyphs">0.02</text>
<text x="554.02" y="274.17" text-anchor="end" textLength="34.90" lengthAdjust="spacingAndGlyphs">0.025</text>
<text x="554.02" y="253.62" text-anchor="end" textLength="27.15" lengthAdjust="spacingAndGlyphs">0.03</text>
<text x="554.02" y="233.08" text-anchor="end" textLength="34.90" lengthAdjust="spacingAndGlyphs">0.035</text>
</g>
<text x="609.87" y="365.65" text-anchor="middle" font-family="Liberation Serif, Times New Roman, serif" font-style="italic" font-size="16" fill="#262626" textLength="8.2" lengthAdjust="spacingAndGlyphs">x</text>
<g transform="translate(510.27 268.73) rotate(-90)" font-family="Liberation Serif, Times New Roman, serif" font-size="16.0" fill="#262626"><text x="-15.6" y="0" font-style="italic" font-size="16" textLength="5.0" lengthAdjust="spacingAndGlyphs">f</text><text x="-8.9" y="3" font-style="italic" font-size="11.5">ĉ</text><text x="-2.9" y="0">(</text><text x="2.8" y="0" font-style="italic" font-size="15.5" textLength="7.6" lengthAdjust="spacingAndGlyphs">x</text><text x="11.5" y="0">)</text></g>
<g font-family="Liberation Serif, Times New Roman, serif" font-size="13.6" fill="#262626">
<text x="538.11" y="199.00" font-style="italic" textLength="7.6" lengthAdjust="spacingAndGlyphs">σ</text>
<text x="546.10" y="201.60" font-style="italic" font-size="9.8">ĉ</text>
<text x="550.35" y="201.60" font-size="9.8">(</text>
<text x="554.16" y="201.60" font-style="italic" font-size="9.8">a</text>
<text x="559.34" y="201.60" font-size="9.8">)</text>
<text x="567.05" y="200.00" textLength="10.89" lengthAdjust="spacingAndGlyphs">=</text>
<text x="581.83" y="199.00" textLength="17.89" lengthAdjust="spacingAndGlyphs">0.5</text>
<text x="604.39" y="199.00" font-style="italic" textLength="7.6" lengthAdjust="spacingAndGlyphs">σ</text>
<text x="612.38" y="201.60" font-style="italic" font-size="9.8">â</text>
<text x="621.46" y="200.00" textLength="10.89" lengthAdjust="spacingAndGlyphs">=</text>
<text x="636.24" y="199.00">8</text>
<text x="647.90" y="199.00" font-style="italic" textLength="6.8" lengthAdjust="spacingAndGlyphs">γ</text>
<text x="659.05" y="200.00" textLength="10.89" lengthAdjust="spacingAndGlyphs">=</text>
<text x="673.83" y="199.00">2</text>
</g>
</g>
</svg>
</body></html>
